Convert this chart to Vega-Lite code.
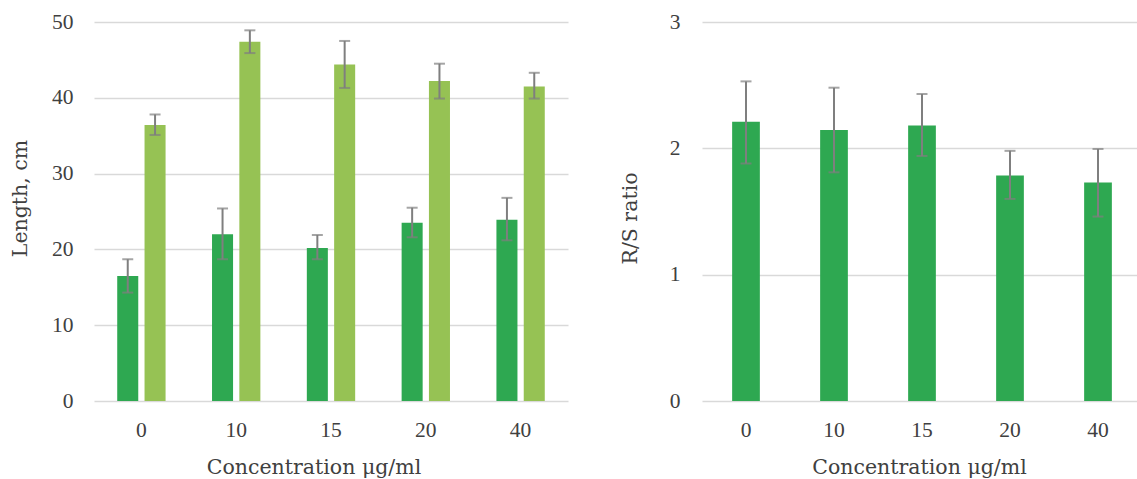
{
  "$schema": "https://vega.github.io/schema/vega-lite/v6.json",
  "background": "white",
  "padding": {"left": 10, "top": 11, "right": 0, "bottom": 0},
  "spacing": 52,
  "config": {
    "view": {"stroke": null},
    "axis": {
      "labelFont": "Liberation Serif",
      "labelFontSize": 21.5,
      "labelColor": "#404040",
      "titleFont": "DejaVu Serif",
      "titleFontSize": 20.5,
      "titleFontWeight": "normal",
      "titleColor": "#404040",
      "domain": false,
      "ticks": false,
      "gridColor": "#d9d9d9",
      "gridWidth": 1.5
    }
  },
  "datasets": {
    "length": [
      {"conc": "0", "part": "Root", "value": 16.5, "lo": 14.3, "hi": 18.7},
      {"conc": "0", "part": "Shoot", "value": 36.4, "lo": 35.1, "hi": 37.8},
      {"conc": "10", "part": "Root", "value": 22.0, "lo": 18.7, "hi": 25.4},
      {"conc": "10", "part": "Shoot", "value": 47.4, "lo": 45.9, "hi": 48.9},
      {"conc": "15", "part": "Root", "value": 20.2, "lo": 18.7, "hi": 21.9},
      {"conc": "15", "part": "Shoot", "value": 44.4, "lo": 41.3, "hi": 47.5},
      {"conc": "20", "part": "Root", "value": 23.5, "lo": 21.6, "hi": 25.5},
      {"conc": "20", "part": "Shoot", "value": 42.2, "lo": 39.9, "hi": 44.5},
      {"conc": "40", "part": "Root", "value": 23.9, "lo": 21.2, "hi": 26.8},
      {"conc": "40", "part": "Shoot", "value": 41.5, "lo": 39.9, "hi": 43.3}
    ],
    "ratio": [
      {"conc": "0", "value": 2.21, "lo": 1.88, "hi": 2.53},
      {"conc": "10", "value": 2.145, "lo": 1.81, "hi": 2.48},
      {"conc": "15", "value": 2.18, "lo": 1.94, "hi": 2.43},
      {"conc": "20", "value": 1.785, "lo": 1.60, "hi": 1.98},
      {"conc": "40", "value": 1.73, "lo": 1.46, "hi": 1.995}
    ]
  },
  "hconcat": [
    {
      "width": 474,
      "height": 379,
      "data": {"name": "length"},
      "encoding": {
        "x": {
          "field": "conc", "type": "ordinal", "sort": ["0", "10", "15", "20", "40"],
          "scale": {"paddingInner": 0.49, "paddingOuter": 0.245},
          "axis": {"title": "Concentration μg/ml", "labelAngle": 0, "labelPadding": 18, "grid": false,
                   "titleX": 219.5, "titleY": 72, "titleAlign": "center", "titleBaseline": "alphabetic"}
        },
        "xOffset": {"field": "part", "type": "nominal", "sort": ["Root", "Shoot"], "scale": {"paddingInner": 0.23, "paddingOuter": 0}}
      },
      "layer": [
        {
          "mark": {"type": "bar"},
          "encoding": {
            "y": {"field": "value", "type": "quantitative", "scale": {"domain": [0, 50]},
                  "axis": {"title": "Length, cm", "values": [0, 10, 20, 30, 40, 50], "format": "d", "labelPadding": 21,
                           "titleX": -74, "titleY": 176, "titleAlign": "center", "titleBaseline": "middle", "titleAngle": -90}},
            "color": {"field": "part", "type": "nominal", "scale": {"domain": ["Root", "Shoot"], "range": ["#2ea851", "#96c254"]}, "legend": null}
          }
        },
        {
          "mark": {"type": "rule", "color": "#7f7f7f", "strokeWidth": 2},
          "encoding": {"y": {"field": "lo", "type": "quantitative"}, "y2": {"field": "hi"}}
        },
        {
          "mark": {"type": "tick", "color": "#7f7f7f", "thickness": 2, "size": 11},
          "encoding": {"y": {"field": "lo", "type": "quantitative"}}
        },
        {
          "mark": {"type": "tick", "color": "#7f7f7f", "thickness": 2, "size": 11},
          "encoding": {"y": {"field": "hi", "type": "quantitative"}}
        }
      ]
    },
    {
      "width": 433,
      "height": 379,
      "data": {"name": "ratio"},
      "encoding": {
        "x": {
          "field": "conc", "type": "ordinal", "sort": ["0", "10", "15", "20", "40"],
          "scale": {"range": [0, 440], "paddingInner": 0.685, "paddingOuter": 0.3425},
          "axis": {"title": "Concentration μg/ml", "labelAngle": 0, "labelPadding": 18, "grid": false,
                   "titleX": 217, "titleY": 72, "titleAlign": "center", "titleBaseline": "alphabetic"}
        }
      },
      "layer": [
        {
          "mark": {"type": "bar", "color": "#2ea851"},
          "encoding": {
            "y": {"field": "value", "type": "quantitative", "scale": {"domain": [0, 3]},
                  "axis": {"title": "R/S ratio", "values": [0, 1, 2, 3], "format": "d", "labelPadding": 22,
                           "titleX": -72, "titleY": 196, "titleAlign": "center", "titleBaseline": "middle", "titleAngle": -90}}
          }
        },
        {
          "mark": {"type": "rule", "color": "#7f7f7f", "strokeWidth": 2},
          "encoding": {"y": {"field": "lo", "type": "quantitative"}, "y2": {"field": "hi"}}
        },
        {
          "mark": {"type": "tick", "color": "#7f7f7f", "thickness": 2, "size": 11},
          "encoding": {"y": {"field": "lo", "type": "quantitative"}}
        },
        {
          "mark": {"type": "tick", "color": "#7f7f7f", "thickness": 2, "size": 11},
          "encoding": {"y": {"field": "hi", "type": "quantitative"}}
        }
      ]
    }
  ]
}
